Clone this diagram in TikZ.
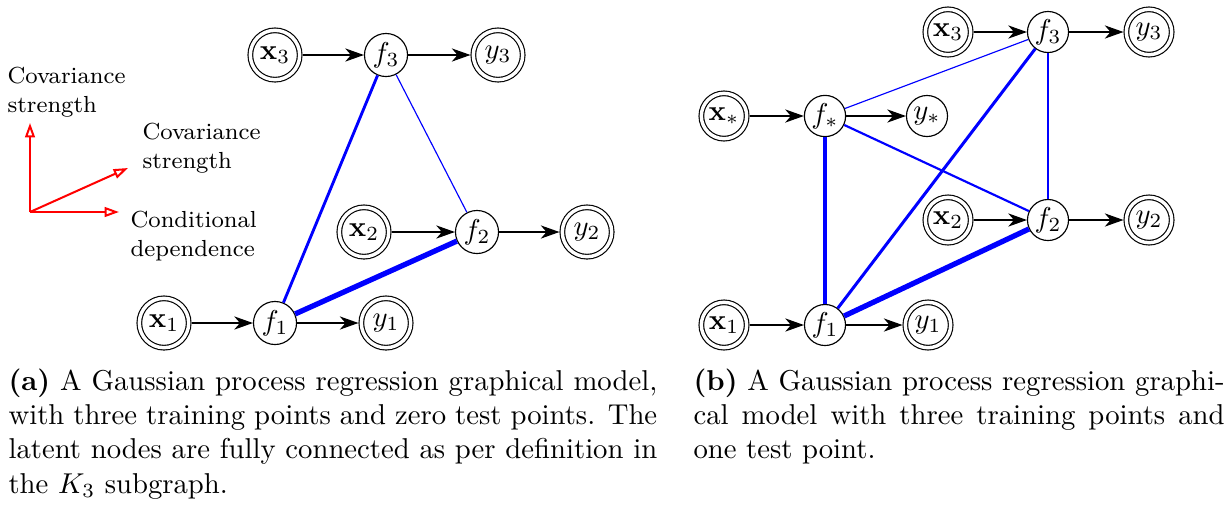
\documentclass[tikz,border=0pt]{standalone}
\usetikzlibrary{arrows.meta}
\begin{document}
\begin{tikzpicture}[x=0.3484pt,y=-0.3484pt,
  lat/.style={circle,draw,line width=0.4pt,inner sep=0.5pt,minimum size=15pt},
  obs/.style={circle,draw,double,double distance=1.2pt,line width=0.4pt,inner sep=0.5pt,outer sep=1pt,minimum size=17.2pt},
  latR/.style={lat,minimum size=14.3pt},
  obsR/.style={obs,minimum size=15.8pt},
  arr/.style={-{Stealth[length=6.5pt,width=4.6pt,inset=2pt]},line width=0.4pt},
  cov/.style={blue,line width=#1},
  axis/.style={red,line width=0.7pt,-{Triangle[open,length=5pt,width=3.4pt]}},
  lbl/.style={anchor=north west,inner sep=0pt,align=left,font=\fontsize{8.1}{9.9}\selectfont},
  capt/.style={anchor=north west,inner sep=0pt,align=justify,font=\fontsize{10}{12}\selectfont},
]
\useasboundingbox (0,0) rectangle (1232,508);

% ---------- left panel ----------
\node[obs] (ax3) at (275,55) {$\mathbf{x}_3$};
\node[lat] (af3) at (386,55) {$f_3$};
\node[obs] (ay3) at (498,55) {$y_3$};
\node[obs] (ax2) at (364,232) {$\mathbf{x}_2$};
\node[lat] (af2) at (477,232) {$f_2$};
\node[obs] (ay2) at (587,232) {$y_2$};
\node[obs] (ax1) at (164,323) {$\mathbf{x}_1$};
\node[lat] (af1) at (275,323) {$f_1$};
\node[obs] (ay1) at (386,323) {$y_1$};

\draw[arr] (ax3) -- (af3);
\draw[arr] (af3) -- (ay3);
\draw[arr] (ax2) -- (af2);
\draw[arr] (af2) -- (ay2);
\draw[arr] (ax1) -- (af1);
\draw[arr] (af1) -- (ay1);

\draw[cov=1pt] (af1) -- (af3);
\draw[cov=0.4pt] (af3) -- (af2);
\draw[cov=1.85pt] (af1) -- (af2);

% legend axes
\coordinate (o) at (30,212);
\coordinate (up) at (30,123);
\coordinate (rt) at (119,212);
\coordinate (dg) at (128,168);
\draw[axis] (o) -- (up);
\draw[axis] (o) -- (rt);
\draw[axis] (o) -- (dg);
\node[lbl] (l1) at (7,67) {Covariance\\strength};
\node[lbl] (l2) at (142,123) {Covariance\\strength};
\node[lbl] (l3) at (130,211) {Conditional\\dependence};

% ---------- right panel ----------
\node[obsR] (bx3) at (948,32) {$\mathbf{x}_3$};
\node[latR] (bf3) at (1048,32) {$f_3$};
\node[obsR] (by3) at (1149,32) {$y_3$};
\node[obsR] (bxs) at (724,116) {$\mathbf{x}_*$};
\node[latR] (bfs) at (825,116) {$f_*$};
\node[latR] (bys) at (927,116) {$y_*$};
\node[obsR] (bx2) at (948,220) {$\mathbf{x}_2$};
\node[latR] (bf2) at (1048,220) {$f_2$};
\node[obsR] (by2) at (1149,220) {$y_2$};
\node[obsR] (bx1) at (724,325) {$\mathbf{x}_1$};
\node[latR] (bf1) at (825,325) {$f_1$};
\node[obsR] (by1) at (928,325) {$y_1$};

\draw[arr] (bx3) -- (bf3);
\draw[arr] (bf3) -- (by3);
\draw[arr] (bxs) -- (bfs);
\draw[arr] (bfs) -- (bys);
\draw[arr] (bx2) -- (bf2);
\draw[arr] (bf2) -- (by2);
\draw[arr] (bx1) -- (bf1);
\draw[arr] (bf1) -- (by1);

\draw[cov=0.4pt] (bfs) -- (bf3);
\draw[cov=0.4pt] (bf3) -- (bf2);
\draw[cov=0.75pt] (bfs) -- (bf2);
\draw[cov=1.05pt] (bf1) -- (bf3);
\draw[cov=1.65pt] (bfs) -- (bf1);
\draw[cov=1.85pt] (bf1) -- (bf2);

% ---------- captions ----------
\node[capt,text width=226pt] (capa) at (8,368)
  {\baselineskip=12pt \textbf{(a)} A Gaussian process regression graphical model,\linebreak
   with three training points and zero test points. The\linebreak
   latent nodes are fully connected as per definition in\linebreak
   the $K_3$ subgraph.\par};
\node[capt,text width=185pt] (capb) at (693,368)
  {\baselineskip=12pt \textbf{(b)} A Gaussian process regression graphi-\linebreak
   cal model with three training points and\linebreak
   one test point.\par};
\end{tikzpicture}
\end{document}
